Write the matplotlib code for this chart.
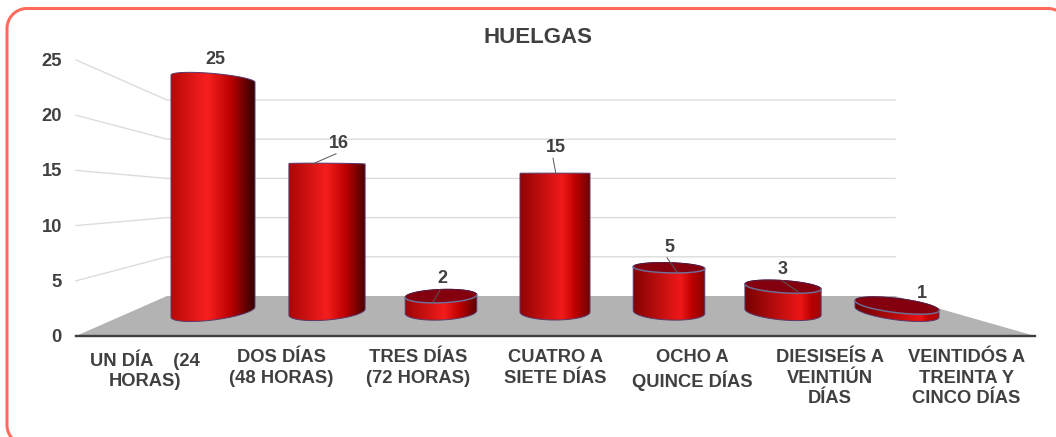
import numpy as np
import matplotlib
matplotlib.use("Agg")
import matplotlib.pyplot as plt
from matplotlib.patches import PathPatch, Polygon
from matplotlib.path import Path
from matplotlib.colors import to_rgb

# ---------- data ----------
title = "HUELGAS"
categories = ["UN DÍA    (24\nHORAS)", "DOS DÍAS\n(48 HORAS)", "TRES DÍAS\n(72 HORAS)",
              "CUATRO A\nSIETE DÍAS", "OCHO A\nQUINCE DÍAS", "DIESISEÍS A\nVEINTIÚN\nDÍAS",
              "VEINTIDÓS A\nTREINTA Y\nCINCO DÍAS"]
values = [25, 16, 2, 15, 5, 3, 1]
y_ticks = [0, 5, 10, 15, 20, 25]

# ---------- layout (pixel scene of the pseudo-3D chart) ----------
W, H = 1056, 437
FRONT_L, FRONT_R, FRONT_0, FRONT_UNIT = 76, 1035, 336, 11.04
BACK_L, BACK_R, BACK_0, BACK_UNIT = 167, 895, 296, 7.84
MID_X, BAR_STEP, MID_W, W_GROW = 555, 114, 70, 1.55
TOP_0, TOP_UNIT, BASE_Y, EYE_Y = 315, 9.45, 312, 175
RY_TOP, RY_BASE, TILT = 0.055, 8.0, 2.6e-6
FRAME_L, FRAME_T, FRAME_R, FRAME_B, FRAME_RAD = 7, 8.5, 1068, 445, 20
label_off = [(2, -19.5), (12, -20.5), (1, -17.5), (1, -25.5), (0, -20.5), (0, -17.5), (25, -12)]
leader_off = [None, (9, -10, -14, 0), (-1, -6, -8, 6), (-2, -15, 1, 1),
              (-2, -10, 8, 4), (-1, -6, 15, 5), None]

TXT = "#404040"
FONT = "Liberation Sans"

fig = plt.figure(figsize=(W / 100, H / 100), dpi=100, facecolor="white")
ax = fig.add_axes([0, 0, 1, 1])
ax.set_xlim(0, W)
ax.set_ylim(H, 0)
ax.axis("off")

px = 72 / 100  # one pixel in points


def front_y(v):
    return FRONT_0 - FRONT_UNIT * v


def back_y(v):
    return BACK_0 - BACK_UNIT * v


def top_y(v):
    return TOP_0 - TOP_UNIT * v


def lerp_col(a, b, t):
    a, b = np.array(to_rgb(a)), np.array(to_rgb(b))
    return a + (b - a) * t


def arc(xc, yc, a, b, slope, t0, t1, n=60):
    t = np.linspace(t0, t1, n)
    x = xc + a * np.cos(t)
    return np.column_stack([x, yc + b * np.sin(t) + slope * (x - xc)])


def tilt(xc, y):
    return TILT * (xc - MID_X) * (y - EYE_Y)


def gradient(i):
    t = i / (len(values) - 1)
    p = 0.43 + 0.35 * t
    left = lerp_col("#b80808", "#6a0000", t)
    peak = lerp_col("#f82020", "#ea1414", t)
    right = lerp_col("#300000", "#b00808", t)
    xs = [0, p * 0.4, p, p + (1 - p) * 0.5, 1]
    cols = np.array([left, lerp_col(left, peak, 0.4), peak, to_rgb("#bb0000"), right])
    u = np.linspace(0, 1, 128)
    return np.stack([np.interp(u, xs, cols[:, c]) for c in range(3)], axis=1)[None, :, :]


# frame (rounded rectangle, running off the right and bottom edges)
r = FRAME_RAD
corners = [(FRAME_L + r, FRAME_T + r, np.pi, 1.5 * np.pi), (FRAME_R - r, FRAME_T + r, 1.5 * np.pi, 2 * np.pi),
           (FRAME_R - r, FRAME_B - r, 0, 0.5 * np.pi), (FRAME_L + r, FRAME_B - r, 0.5 * np.pi, np.pi)]
frame = np.vstack([arc(cx, cy, r, r, 0, t0, t1, 24) for cx, cy, t0, t1 in corners])
ax.add_patch(Polygon(frame, closed=True, fc="none", ec="#ff6a5c", lw=3 * px, zorder=1))

# floor
ax.add_patch(Polygon([(FRONT_L, FRONT_0), (BACK_L, BACK_0), (BACK_R, BACK_0), (FRONT_R, FRONT_0)],
                     closed=True, fc="#b3b3b3", ec="none", zorder=2))

# gridlines on side and back wall
for v in y_ticks[1:]:
    ax.plot([FRONT_L, BACK_L, BACK_R], [front_y(v), back_y(v), back_y(v)],
            color="#dcdcdc", lw=1.4 * px, zorder=2, solid_joinstyle="miter")

# front axis line
ax.plot([FRONT_L, FRONT_R], [FRONT_0, FRONT_0], color="#404040", lw=2.4 * px, zorder=3)

# y tick labels
for v in y_ticks:
    ax.text(62, front_y(v) + 1.5, str(v), ha="right", va="center", fontsize=13.2,
            fontweight="bold", family=FONT, color=TXT, zorder=6)

# cylinders
for i, v in enumerate(values):
    xc = MID_X + (i - 3) * BAR_STEP
    a = (MID_W + W_GROW * (i - 3) ** 2) / 2
    yt = top_y(v)
    b_top = RY_TOP * abs(yt - EYE_Y)
    s_top, s_base = tilt(xc, yt), tilt(xc, BASE_Y)
    # body: upper arc of top ellipse + lower arc of base ellipse
    upper = arc(xc, yt, a, b_top, s_top, np.pi, 2 * np.pi)
    lower = arc(xc, BASE_Y, a, RY_BASE, s_base, 0, np.pi)
    body = np.vstack([upper, lower, upper[:1]])
    patch = PathPatch(Path(body), fc="none", ec="#5b3a6a", lw=1.0 * px, zorder=4.2)
    ax.add_patch(patch)
    im = ax.imshow(gradient(i), extent=(xc - a, xc + a, BASE_Y + 20, yt - 20),
                   aspect="auto", zorder=4, interpolation="bilinear")
    im.set_clip_path(patch)
    # visible top face for cylinders below eye level
    if yt > EYE_Y + 40:
        ring = arc(xc, yt, a, b_top, s_top, 0, 2 * np.pi, 120)
        ax.add_patch(Polygon(ring, closed=True, fc="#84000e", ec="none", zorder=4.4))
        ax.plot(*arc(xc, yt, a, b_top, s_top, np.pi, 2 * np.pi).T, color="#5a1a3a",
                lw=1.0 * px, zorder=4.5)
        ax.plot(*arc(xc, yt, a, b_top, s_top, 0, np.pi).T, color="#6d6d96",
                lw=1.5 * px, zorder=4.5)
    # label and leader
    dx, dy = label_off[i]
    ax.text(xc + dx, yt + dy, str(v), ha="center", va="center", fontsize=13,
            fontweight="bold", family=FONT, color=TXT, zorder=6)
    if leader_off[i] is not None:
        x0, y0, x1, y1 = leader_off[i]
        ax.plot([xc + x0, xc + x1], [yt + y0, yt + y1], color="#595959", lw=1.0 * px, zorder=5)

# category labels
step = (FRONT_R - FRONT_L) / len(categories)
for i, c in enumerate(categories):
    ax.text(FRONT_L + step * (i + 0.5), 349, c, ha="center", va="top", fontsize=13.2,
            fontweight="bold", family=FONT, color=TXT, linespacing=1.27, zorder=6)

# title
ax.text(538, 37.5, title, ha="center", va="center", fontsize=16, fontweight="bold",
        family=FONT, color=TXT, zorder=6)

ax.set_xlim(0, W)
ax.set_ylim(H, 0)
fig.savefig("out.png", dpi=100, facecolor="white")
